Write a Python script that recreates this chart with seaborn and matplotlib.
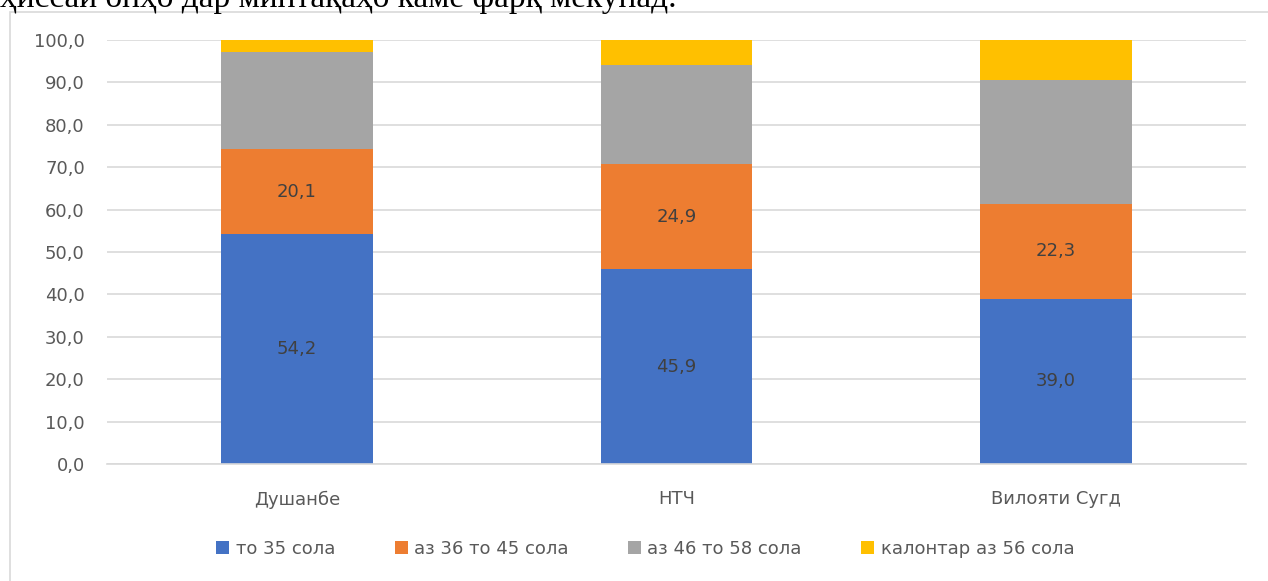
import matplotlib
matplotlib.use('Agg')
import matplotlib.pyplot as plt
from matplotlib.patches import Rectangle
import pandas as pd
import seaborn as sns

regions = ['Душанбе', 'НТЧ', 'Вилояти Сугд']
groups = ['то 35 сола', 'аз 36 то 45 сола', 'аз 46 то 58 сола', 'калонтар аз 56 сола']
to_35 = [54.2, 45.9, 39.0]
from_36_45 = [20.1, 24.9, 22.3]
from_46_58 = [22.9, 23.3, 29.3]
over_56 = [2.8, 5.9, 9.4]
colors = ['#4472C4', '#ED7D31', '#A5A5A5', '#FFC000']
labelled = [True, True, False, False]

sns.set_style('white')
plt.rcParams['font.family'] = ['DejaVu Sans']

df = pd.DataFrame({'region': regions, groups[0]: to_35, groups[1]: from_36_45,
                   groups[2]: from_46_58, groups[3]: over_56})
cum = df[groups].cumsum(axis=1)

fig = plt.figure(figsize=(12.68, 5.81), dpi=100)
ax = fig.add_axes([0.0844, 0.2014, 0.8982, 0.7298])

# stacked bars drawn as overlapping cumulative bars, tallest first
for i in reversed(range(len(groups))):
    sns.barplot(x=df['region'], y=cum[groups[i]], color=colors[i], width=0.4,
                saturation=1, ax=ax, label=groups[i], zorder=2, linewidth=0, edgecolor='none')

for i, g in enumerate(groups):
    if not labelled[i]:
        continue
    for j, r in enumerate(regions):
        mid = cum[g][j] - df[g][j] / 2
        ax.text(j, mid, f'{df[g][j]:.1f}'.replace('.', ','), ha='center', va='center',
                fontsize=13, color='#404040', zorder=3)

ax.set_ylim(0, 100)
ax.set_xlim(-0.5, 2.5)
ax.set_yticks(range(0, 101, 10))
ax.set_yticklabels([f'{v:.1f}'.replace('.', ',') for v in range(0, 101, 10)])
ax.yaxis.grid(True, color='#d9d9d9', lw=1.2, zorder=0)
ax.set_axisbelow(True)
for s in ['top', 'right', 'left']:
    ax.spines[s].set_visible(False)
ax.spines['bottom'].set_color('#d9d9d9')
ax.spines['bottom'].set_linewidth(1.2)
ax.tick_params(axis='y', length=0, pad=16, labelsize=13, labelcolor='#595959')
ax.tick_params(axis='x', length=0, pad=19, labelsize=13, labelcolor='#595959')
ax.set_xlabel('')
ax.set_ylabel('')

handles, labels = ax.get_legend_handles_labels()
order = [labels.index(g) for g in groups]
ax.legend([handles[k] for k in order], groups, loc='center', bbox_to_anchor=(0.509, 0.055),
          bbox_transform=fig.transFigure, ncol=4, frameon=False, fontsize=13,
          handlelength=0.72, handleheight=0.72, handletextpad=0.35, columnspacing=3.3,
          labelcolor='#595959')

# chart frame and the document line above it
fig.patches.append(Rectangle((10 / 1268, -0.1), 1.2, 1 - 12 / 581 + 0.1, transform=fig.transFigure,
                             fill=False, edgecolor='#d9d9d9', lw=1.2))
fig.text(0.0, 1 - 7 / 581, 'ҳиссаи онҳо дар минтақаҳо каме фарқ мекунад.', ha='left',
         va='baseline', fontsize=24, family=['Liberation Serif', 'DejaVu Serif'], color='black')

fig.savefig('out.png', dpi=100)
